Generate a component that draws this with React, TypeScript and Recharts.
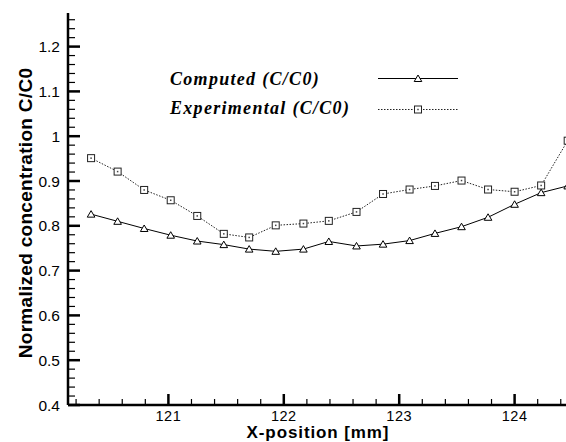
import React from 'react';
import { LineChart, Line, XAxis, YAxis, Legend } from 'recharts';

const xValues = [120.33, 120.56, 120.79, 121.02, 121.25, 121.48, 121.70, 121.93, 122.17, 122.39, 122.63, 122.86, 123.09, 123.31, 123.54, 123.77, 124.00, 124.23, 124.46];
const computedValues = [0.826, 0.810, 0.794, 0.779, 0.766, 0.758, 0.748, 0.743, 0.748, 0.765, 0.755, 0.759, 0.767, 0.783, 0.798, 0.819, 0.848, 0.874, 0.889];
const experimentalValues = [0.951, 0.921, 0.880, 0.857, 0.822, 0.782, 0.774, 0.801, 0.805, 0.811, 0.831, 0.871, 0.881, 0.889, 0.901, 0.881, 0.876, 0.890, 0.990];

const seriesNames = ['Computed (C/C0)', 'Experimental (C/C0)'];
const xAxisLabel = 'X-position [mm]';
const yAxisLabel = 'Normalized concentration C/C0';

const xMajorTicks = [121, 122, 123, 124];
const xMinorTicks = [120.2, 120.4, 120.6, 120.8, 121.2, 121.4, 121.6, 121.8, 122.2, 122.4, 122.6, 122.8, 123.2, 123.4, 123.6, 123.8, 124.2, 124.4, 124.6];
const yMajorTicks = [0.4, 0.5, 0.6, 0.7, 0.8, 0.9, 1.0, 1.1, 1.2];
const yMinorTicks = [0.42, 0.44, 0.46, 0.48, 0.52, 0.54, 0.56, 0.58, 0.62, 0.64, 0.66, 0.68, 0.72, 0.74, 0.76, 0.78, 0.82, 0.84, 0.86, 0.88, 0.92, 0.94, 0.96, 0.98, 1.02, 1.04, 1.06, 1.08, 1.12, 1.14, 1.16, 1.18, 1.22, 1.24, 1.26];

const data = xValues.map((x, i) => ({ x, computed: computedValues[i], experimental: experimentalValues[i] }));
const xTicks = [...xMajorTicks, ...xMinorTicks].sort((a, b) => a - b);
const yTicks = [...yMajorTicks, ...yMinorTicks].sort((a, b) => a - b);

const isMajor = (list: number[], v: number) => list.some((m) => Math.abs(m - v) < 1e-6);
const fmt = (v: number) => String(Number(v.toFixed(1)));

const SANS = '"Liberation Sans", Arial, sans-serif';
const SERIF = '"Liberation Serif", "Times New Roman", serif';

const YTick = (props: any) => {
  const { x, y, payload } = props;
  const v = payload.value;
  const major = isMajor(yMajorTicks, v);
  return (
    <g>
      <line x1={x} x2={x + (major ? 12 : 7)} y1={y} y2={y} stroke="#000" strokeWidth={major ? 2.5 : 1.2} />
      {major && (
        <text x={x - 8} y={y + 5.5} textAnchor="end" fontFamily={SANS} fontSize={15.5} fill="#000">
          {fmt(v)}
        </text>
      )}
    </g>
  );
};

const XTick = (props: any) => {
  const { x, y, payload } = props;
  const v = payload.value;
  const major = isMajor(xMajorTicks, v);
  return (
    <g>
      <line x1={x} x2={x} y1={y} y2={y - (major ? 11 : 6)} stroke="#000" strokeWidth={major ? 2.5 : 1.2} />
      {major && (
        <text x={x} y={y + 16} textAnchor="middle" fontFamily={SANS} fontSize={14.5} letterSpacing={0.5} fill="#000">
          {fmt(v)}
        </text>
      )}
    </g>
  );
};

const TriangleDot = (props: any) => {
  const { cx, cy } = props;
  if (cx == null || cy == null) return null;
  return <path d={`M${cx},${cy - 3.5} L${cx + 3.8},${cy + 3} L${cx - 3.8},${cy + 3} Z`} fill="#fff" stroke="#000" strokeWidth={1} />;
};

const SquareDot = (props: any) => {
  const { cx, cy } = props;
  if (cx == null || cy == null) return null;
  return (
    <g>
      <rect x={cx - 3.5} y={cy - 3.5} width={7} height={7} fill="#fff" stroke="#222" strokeWidth={1} />
      <rect x={cx - 0.75} y={cy - 0.75} width={1.5} height={1.5} fill="#444" />
    </g>
  );
};

const LegendBox = () => (
  <svg width={600} height={140} style={{ display: 'block' }}>
    <text x={170} y={85} fontFamily={SERIF} fontStyle="italic" fontWeight="bold" fontSize={18} letterSpacing={1.3} fill="#000">
      {seriesNames[0]}
    </text>
    <line x1={378} x2={458} y1={78.5} y2={78.5} stroke="#000" strokeWidth={1} />
    <TriangleDot cx={418} cy={78.5} />
    <text x={170} y={114} fontFamily={SERIF} fontStyle="italic" fontWeight="bold" fontSize={18} letterSpacing={1.3} fill="#000">
      {seriesNames[1]}
    </text>
    <line x1={378} x2={458} y1={109.5} y2={109.5} stroke="#222" strokeWidth={1} strokeDasharray="1.5 1.5" />
    <SquareDot cx={418} cy={109.5} />
  </svg>
);

const XLabel = (props: any) => {
  const vb = props.viewBox || { x: 68, y: 405, width: 532 };
  return (
    <text x={vb.x + 250} y={vb.y + 33} textAnchor="middle" fontFamily={SANS} fontWeight="bold" fontSize={17} letterSpacing={0.9} fill="#000">
      {xAxisLabel}
    </text>
  );
};

const YLabel = (props: any) => {
  const vb = props.viewBox || { x: 0, y: 13, width: 68, height: 392 };
  const cx = 31.5;
  const cy = vb.y + 200;
  return (
    <text x={cx} y={cy} transform={`rotate(-90, ${cx}, ${cy})`} textAnchor="middle" fontFamily={SANS} fontWeight="bold" fontSize={19} letterSpacing={0.3} fill="#000">
      {yAxisLabel}
    </text>
  );
};

export default function App() {
  return (
    <div style={{ position: 'fixed', left: 0, top: 0, width: 566, height: 442, overflow: 'hidden', background: '#fff' }}>
      <LineChart width={600} height={442} data={data} margin={{ top: 13, right: 0, bottom: 0, left: 0 }}>
        <XAxis
          type="number"
          dataKey="x"
          domain={[120.13, 124.74]}
          allowDataOverflow
          ticks={xTicks}
          interval={0}
          tickSize={0}
          tickMargin={0}
          tickLine={false}
          height={37}
          axisLine={{ stroke: '#000', strokeWidth: 2.5 }}
          tick={<XTick />}
          label={{ value: xAxisLabel, content: <XLabel /> }}
        />
        <YAxis
          type="number"
          domain={[0.4, 1.275]}
          allowDataOverflow
          ticks={yTicks}
          interval={0}
          tickSize={0}
          tickMargin={0}
          tickLine={false}
          width={68}
          axisLine={{ stroke: '#000', strokeWidth: 2.5 }}
          tick={<YTick />}
          label={{ value: yAxisLabel, content: <YLabel /> }}
        />
        <Legend
          layout="horizontal"
          verticalAlign="middle"
          align="center"
          wrapperStyle={{ left: 0, top: 0, width: 600, height: 140 }}
          content={() => <LegendBox />}
        />
        <Line
          type="linear"
          dataKey="experimental"
          name={seriesNames[1]}
          stroke="#222"
          strokeWidth={1}
          strokeDasharray="1.5 1.5"
          dot={<SquareDot />}
          isAnimationActive={false}
        />
        <Line
          type="linear"
          dataKey="computed"
          name={seriesNames[0]}
          stroke="#000"
          strokeWidth={1}
          dot={<TriangleDot />}
          isAnimationActive={false}
        />
      </LineChart>
    </div>
  );
}
